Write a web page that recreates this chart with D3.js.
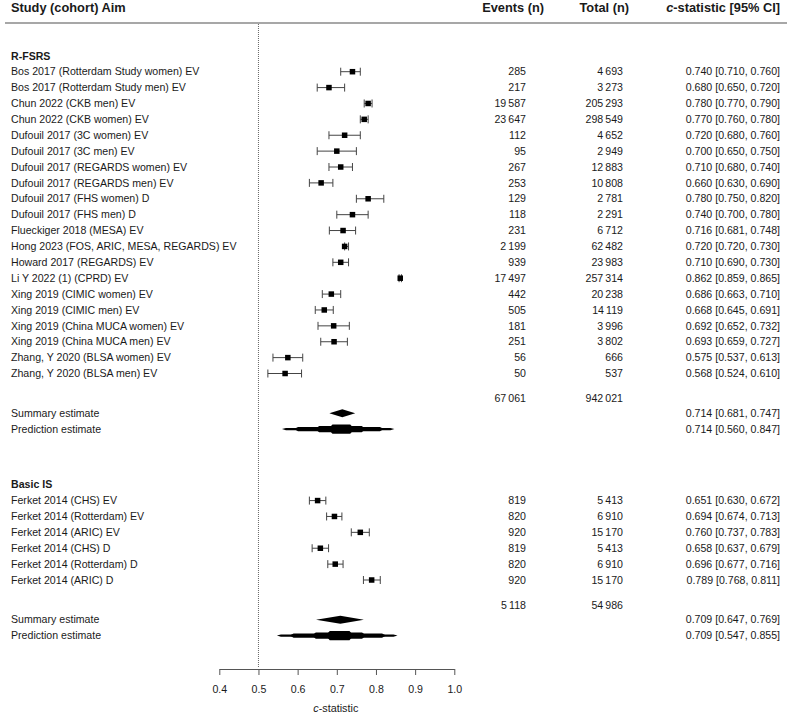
<!DOCTYPE html>
<html>
<head>
<meta charset="utf-8">
<script src="https://cdn.jsdelivr.net/npm/d3@7"></script>
<style>
  body { margin: 0; background: white; }
  text { font-family: "Liberation Sans", Arial, sans-serif; fill: #1a1a1a; }
</style>
</head>
<body>
<div id="chart"></div>
<script>
// study rows (R-FSRS first, then Basic IS)
var studies = [
    "Bos 2017 (Rotterdam Study women) EV",
    "Bos 2017 (Rotterdam Study men) EV",
    "Chun 2022 (CKB men) EV",
    "Chun 2022 (CKB women) EV",
    "Dufouil 2017 (3C women) EV",
    "Dufouil 2017 (3C men) EV",
    "Dufouil 2017 (REGARDS women) EV",
    "Dufouil 2017 (REGARDS men) EV",
    "Dufouil 2017 (FHS women) D",
    "Dufouil 2017 (FHS men) D",
    "Flueckiger 2018 (MESA) EV",
    "Hong 2023 (FOS, ARIC, MESA, REGARDS) EV",
    "Howard 2017 (REGARDS) EV",
    "Li Y 2022 (1) (CPRD) EV",
    "Xing 2019 (CIMIC women) EV",
    "Xing 2019 (CIMIC men) EV",
    "Xing 2019 (China MUCA women) EV",
    "Xing 2019 (China MUCA men) EV",
    "Zhang, Y 2020 (BLSA women) EV",
    "Zhang, Y 2020 (BLSA men) EV",
    "Ferket 2014 (CHS) EV",
    "Ferket 2014 (Rotterdam) EV",
    "Ferket 2014 (ARIC) EV",
    "Ferket 2014 (CHS) D",
    "Ferket 2014 (Rotterdam) D",
    "Ferket 2014 (ARIC) D"
];
var studyGroup = [0,0,0,0,0,0,0,0,0,0,0,0,0,0,0,0,0,0,0,0, 1,1,1,1,1,1];
var events = [285, 217, 19587, 23647, 112, 95, 267, 253, 129, 118, 231, 2199, 939, 17497, 442, 505, 181, 251, 56, 50,
              819, 820, 920, 819, 820, 920];
var totals = [4693, 3273, 205293, 298549, 4652, 2949, 12883, 10808, 2781, 2291, 6712, 62482, 23983, 257314, 20238, 14119, 3996, 3802, 666, 537,
              5413, 6910, 15170, 5413, 6910, 15170];
var est = [0.740, 0.680, 0.780, 0.770, 0.720, 0.700, 0.710, 0.660, 0.780, 0.740, 0.716, 0.720, 0.710, 0.862, 0.686, 0.668, 0.692, 0.693, 0.575, 0.568,
           0.651, 0.694, 0.760, 0.658, 0.696, 0.789];
var lo = [0.710, 0.650, 0.770, 0.760, 0.680, 0.650, 0.680, 0.630, 0.750, 0.700, 0.681, 0.720, 0.690, 0.859, 0.663, 0.645, 0.652, 0.659, 0.537, 0.524,
          0.630, 0.674, 0.737, 0.637, 0.677, 0.768];
var hi = [0.760, 0.720, 0.790, 0.780, 0.760, 0.750, 0.740, 0.690, 0.820, 0.780, 0.748, 0.730, 0.730, 0.865, 0.710, 0.691, 0.732, 0.727, 0.613, 0.610,
          0.672, 0.713, 0.783, 0.679, 0.716, 0.811];

// per model group
var groupNames = ["R-FSRS", "Basic IS"];
var groupEvents = [67061, 5118];
var groupTotals = [942021, 54986];
var sumEst = [0.714, 0.709];
var sumLo = [0.681, 0.647];
var sumHi = [0.747, 0.769];
var predLo = [0.560, 0.547];
var predHi = [0.847, 0.855];

var xTicks = [0.4, 0.5, 0.6, 0.7, 0.8, 0.9, 1.0];

var width = 793;
var height = 717;

var canvas = d3.select("#chart")
    .append("svg")
    .attr("width", width)
    .attr("height", height)

canvas.append("rect")
    .attr("width", width)
    .attr("height", height)
    .attr("fill", "white")

var x = d3.scaleLinear().domain([0.4, 1.0]).range([219.3, 454.3])
// row index -> vertical centre
var y = d3.scaleLinear().domain([0, 32]).range([71.7, 580])

var fmtN = d3.formatLocale({ decimal: ".", thousands: "\u2009", grouping: [3], currency: ["", ""] }).format(",d")
var f3 = d3.format(".3f")
var ciText = function(e, l, h) { return f3(e) + " [" + f3(l) + ", " + f3(h) + "]"; }

var colName = 11, colEvents = 526, colTotal = 623, colCI = 780;

// work out row positions
var rows = [];
var groupRows = [];
var idx = 0;
groupNames.forEach(function(g, gi) {
    var first = idx;
    studies.forEach(function(s, i) {
        if (studyGroup[i] === gi) {
            rows.push({ i: i, row: idx });
            idx++;
        }
    });
    var last = idx - 1;
    groupRows.push({ g: gi, label: first - 1, totals: last + 1.58, summary: last + 2.5, pred: last + 3.5 });
    idx = last + 8;
});

// header
var header = canvas.append("g").style("font-weight", "bold").style("font-size", "12.8px")
header.append("text").attr("x", colName).attr("y", 8).attr("dy", "0.35em").text("Study (cohort) Aim")
header.append("text").attr("x", colEvents + 18).attr("y", 8).attr("dy", "0.35em").attr("text-anchor", "end").text("Events (n)")
header.append("text").attr("x", colTotal + 6).attr("y", 8).attr("dy", "0.35em").attr("text-anchor", "end").text("Total (n)")
var ciHead = header.append("text").attr("x", colCI).attr("y", 8).attr("dy", "0.35em").attr("text-anchor", "end")
ciHead.append("tspan").style("font-style", "italic").text("c")
ciHead.append("tspan").text("-statistic [95% CI]")

canvas.append("line")
    .attr("x1", 5).attr("x2", 787)
    .attr("y1", 23).attr("y2", 23)
    .style("stroke", "#8a8a8a")
    .style("stroke-width", "1.5px")

// reference line at 0.5
canvas.append("line")
    .attr("x1", x(0.5)).attr("x2", x(0.5))
    .attr("y1", 24).attr("y2", 668)
    .style("stroke", "#666")
    .style("stroke-width", "1px")
    .style("stroke-dasharray", "1,1")

var body = canvas.append("g").style("font-size", "10.6px")

// group labels
body.selectAll(".groupLabel")
    .data(groupRows)
    .enter().append("text")
    .attr("class", "groupLabel")
    .attr("x", colName)
    .attr("y", function(d) { return y(d.label); })
    .attr("dy", "0.35em")
    .style("font-weight", "bold")
    .text(function(d) { return groupNames[d.g]; })

// study text columns
var studyRows = body.selectAll(".study")
    .data(rows)
    .enter().append("g")
    .attr("class", "study")
    .attr("transform", function(d) { return "translate(0," + y(d.row) + ")"; })

studyRows.append("text").attr("x", colName).attr("dy", "0.35em").text(function(d) { return studies[d.i]; })
studyRows.append("text").attr("x", colEvents).attr("dy", "0.35em").attr("text-anchor", "end").text(function(d) { return fmtN(events[d.i]); })
studyRows.append("text").attr("x", colTotal).attr("dy", "0.35em").attr("text-anchor", "end").text(function(d) { return fmtN(totals[d.i]); })
studyRows.append("text").attr("x", colCI).attr("dy", "0.35em").attr("text-anchor", "end").text(function(d) { return ciText(est[d.i], lo[d.i], hi[d.i]); })

// whiskers + caps
studyRows.append("line")
    .attr("x1", function(d) { return x(lo[d.i]); })
    .attr("x2", function(d) { return x(hi[d.i]); })
    .style("stroke", "#444").style("stroke-width", "1px")
studyRows.append("line")
    .attr("x1", function(d) { return x(lo[d.i]); }).attr("x2", function(d) { return x(lo[d.i]); })
    .attr("y1", -4).attr("y2", 4)
    .style("stroke", "#444").style("stroke-width", "1px")
studyRows.append("line")
    .attr("x1", function(d) { return x(hi[d.i]); }).attr("x2", function(d) { return x(hi[d.i]); })
    .attr("y1", -4).attr("y2", 4)
    .style("stroke", "#444").style("stroke-width", "1px")
studyRows.append("rect")
    .attr("x", function(d) { return x(est[d.i]) - 2.75; })
    .attr("y", -2.75)
    .attr("width", 5.5).attr("height", 5.5)
    .attr("fill", "black")

// group totals, summary, prediction
var sums = body.selectAll(".summary")
    .data(groupRows)
    .enter().append("g")
    .attr("class", "summary")

sums.append("text").attr("x", colEvents).attr("y", function(d) { return y(d.totals); }).attr("dy", "0.35em")
    .attr("text-anchor", "end").text(function(d) { return fmtN(groupEvents[d.g]); })
sums.append("text").attr("x", colTotal).attr("y", function(d) { return y(d.totals); }).attr("dy", "0.35em")
    .attr("text-anchor", "end").text(function(d) { return fmtN(groupTotals[d.g]); })
sums.append("text").attr("x", colName).attr("y", function(d) { return y(d.summary); }).attr("dy", "0.35em").text("Summary estimate")
sums.append("text").attr("x", colName).attr("y", function(d) { return y(d.pred); }).attr("dy", "0.35em").text("Prediction estimate")
sums.append("text").attr("x", colCI).attr("y", function(d) { return y(d.summary); }).attr("dy", "0.35em")
    .attr("text-anchor", "end").text(function(d) { return ciText(sumEst[d.g], sumLo[d.g], sumHi[d.g]); })
sums.append("text").attr("x", colCI).attr("y", function(d) { return y(d.pred); }).attr("dy", "0.35em")
    .attr("text-anchor", "end").text(function(d) { return ciText(sumEst[d.g], predLo[d.g], predHi[d.g]); })

var diamond = function(cx, l, h, cy, hh) {
    return [[x(l), cy], [cx, cy - hh], [x(h), cy], [cx, cy + hh]].map(function(p) { return p.join(","); }).join(" ");
}

sums.append("polygon")
    .attr("points", function(d) { return diamond(x(sumEst[d.g]), sumLo[d.g], sumHi[d.g], y(d.summary), 4); })
    .attr("fill", "black")

// prediction: stacked bands from the prediction interval in to the centre, short taper at each end
var band = function(l, h, cy, hh) {
    var t = Math.min(4, (h - l) / 4);
    return [[l, cy], [l + t, cy - hh], [h - t, cy - hh], [h, cy], [h - t, cy + hh], [l + t, cy + hh]]
        .map(function(p) { return p.join(","); }).join(" ");
}
var layers = [{ f: 1, h: 1.1 }, { f: 0.8, h: 2.2 }, { f: 0.45, h: 3.2 }, { f: 0.23, h: 4.6 }];
layers.forEach(function(L) {
    sums.append("polygon")
        .attr("points", function(d) {
            var c = sumEst[d.g];
            return band(x(c - (c - predLo[d.g]) * L.f), x(c + (predHi[d.g] - c) * L.f), y(d.pred), L.h);
        })
        .attr("fill", "black")
})

// x axis
var axis = canvas.append("g")
    .attr("class", "xAxis")
    .attr("transform", "translate(0,669)")
    .call(d3.axisBottom(x).tickValues(xTicks).tickFormat(d3.format(".1f")).tickSize(6).tickSizeOuter(0).tickPadding(10))

axis.selectAll("path, line").style("stroke", "#555")
axis.selectAll("text").style("font-size", "10.6px").style("font-family", "'Liberation Sans', Arial, sans-serif").attr("fill", "#1a1a1a")

var xLabel = canvas.append("text")
    .attr("x", x(0.7) - 1)
    .attr("y", 708)
    .attr("dy", "0.35em")
    .attr("text-anchor", "middle")
    .style("font-size", "10.8px")
xLabel.append("tspan").style("font-style", "italic").text("c")
xLabel.append("tspan").text("-statistic")
</script>
</body>
</html>
